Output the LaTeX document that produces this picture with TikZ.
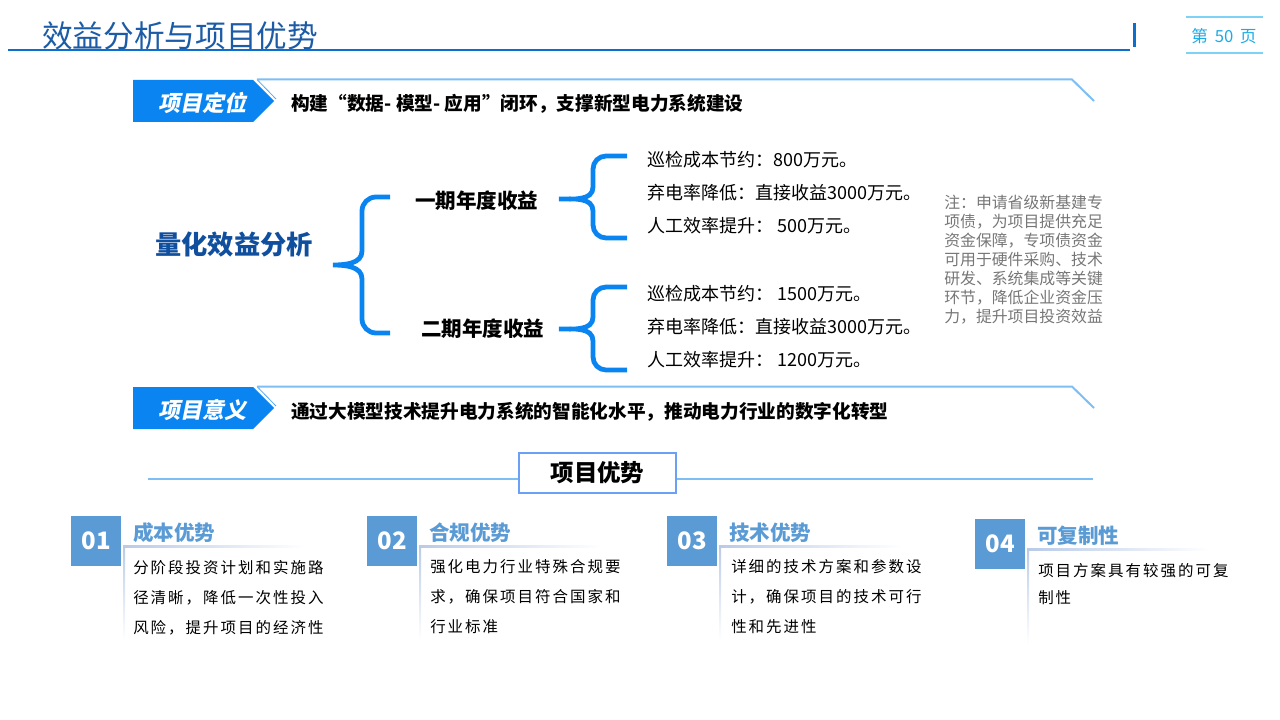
\documentclass[tikz,border=0pt]{standalone}
\usepackage{fontspec}
\setmainfont{Noto Sans CJK SC}
\newfontfamily\cjkbit{Noto Sans CJK SC}[FakeSlant=0.2]
\newfontfamily\cardfont{Noto Sans CJK SC}[LetterSpace=13]
\usetikzlibrary{shadows}
\definecolor{bannerblue}{RGB}{10,132,240}
\definecolor{titleblue}{RGB}{28,92,166}
\definecolor{darkblue}{RGB}{16,78,158}
\definecolor{lineblue}{RGB}{12,110,205}
\definecolor{lightline}{RGB}{125,190,245}
\definecolor{pagecyan}{RGB}{30,170,230}
\definecolor{pageline}{RGB}{125,210,245}
\definecolor{cardblue}{RGB}{91,155,213}
\definecolor{notegray}{RGB}{118,118,118}
\definecolor{cardline}{RGB}{185,202,232}
\tikzset{
  bracepath/.style={draw=bannerblue, line width=3.6pt},
  bannerfill/.style={fill=bannerblue},
  bannerlbl/.style={text=white, inner sep=0, font=\cjkbit\fontsize{16.5}{20}\selectfont\bfseries},
  bannerline/.style={draw=lightline, line width=1.5pt},
  bannerdiag/.style={draw=bannerblue!70, line width=0.6pt},
  sentence/.style={anchor=west, inner sep=0, font=\fontsize{14}{17}\selectfont\bfseries},
  item/.style={anchor=west, inner sep=0, font=\fontsize{13.5}{16}\selectfont},
  subhead/.style={anchor=west, inner sep=0, font=\fontsize{15.4}{18}\selectfont\bfseries},
  numbox/.style={fill=cardblue, text=white, minimum size=37.5pt, inner sep=0, font=\fontsize{18}{20}\selectfont\bfseries},
  cardtitle/.style={anchor=west, inner sep=0, text=cardblue, font=\fontsize{15.4}{18}\selectfont\bfseries},
  cardtext/.style={anchor=north west, inner sep=0, align=left, font=\cardfont\fontsize{11.6}{22.5}\selectfont},
}
\begin{document}
\begin{tikzpicture}[x=0.75pt,y=-0.75pt]
\useasboundingbox (0,0) rectangle (1280,720);
% header
\node[anchor=west, inner sep=0, text=titleblue, font=\fontsize{23}{26}\selectfont] (title) at (42,36) {效益分析与项目优势};
\draw[lineblue, line width=1.5pt] (8,50.5) -- (1130,50.5);
\draw[lineblue, line width=2.2pt] (1134.5,23) -- (1134.5,47);
\draw[pageline, line width=1.5pt] (1186,17) -- (1263,17) (1186,53) -- (1263,53);
\node[inner sep=0, text=pagecyan, font=\fontsize{12.5}{14}\selectfont] (page) at (1224,36) {第\hspace{5pt}50\hspace{5pt}页};
% banner 1
\fill[bannerfill] (133,80) -- (253,80) -- (274,101) -- (253,122) -- (133,122) -- cycle;
\draw[bannerdiag] (257,79.5) -- (276,99);
\draw[bannerline] (257,79.5) -- (1072,79.5) -- (1094,101);
\node[bannerlbl] (b1) at (202.5,103) {项目定位};
\node[sentence] (s1) at (291,104) {构建“数据- 模型- 应用”闭环，支撑新型电力系统建设};
% quantified analysis
\node[anchor=west, inner sep=0, text=darkblue, font=\fontsize{19.7}{22}\selectfont\bfseries] (qa) at (155,245) {量化效益分析};
\coordinate (bigtip) at (333,265);
\draw[bracepath] (390,197) -- (376,197) to[out=180,in=90] (362,211) -- (362,251) to[out=-90,in=0] (bigtip) to[out=0,in=90] (362,279) -- (362,319) to[out=-90,in=180] (376,333) -- (390,333);
\node[subhead] (p1) at (415,201) {一期年度收益};
\node[subhead] (p2) at (421,329) {二期年度收益};
\coordinate (tip1) at (559,199);
\coordinate (tip2) at (559,329);
\draw[bracepath] (627,156) -- (606,156) to[out=180,in=90] (593,169) -- (593,187) to[out=-90,in=0] (tip1) to[out=0,in=90] (593,211) -- (593,225) to[out=-90,in=180] (606,238) -- (627,238);
\draw[bracepath] (627,287) -- (606,287) to[out=180,in=90] (593,300) -- (593,317) to[out=-90,in=0] (tip2) to[out=0,in=90] (593,341) -- (593,357) to[out=-90,in=180] (606,370) -- (627,370);
\node[item] (i11) at (647,160) {巡检成本节约：800万元。};
\node[item] (i12) at (647,193) {弃电率降低：直接收益3000万元。};
\node[item] (i13) at (647,226) {人工效率提升： 500万元。};
\node[item] (i21) at (647,294) {巡检成本节约： 1500万元。};
\node[item] (i22) at (647,327) {弃电率降低：直接收益3000万元。};
\node[item] (i23) at (647,360) {人工效率提升： 1200万元。};
\node[anchor=north west, inner sep=0, align=left, text=notegray, font=\fontsize{11.9}{14.25}\selectfont] (note) at (944,195) {注：申请省级新基建专\\项债，为项目提供充足\\资金保障，专项债资金\\可用于硬件采购、技术\\研发、系统集成等关键\\环节，降低企业资金压\\力，提升项目投资效益};
% banner 2
\fill[bannerfill] (133,387) -- (253,387) -- (274,408) -- (253,429) -- (133,429) -- cycle;
\draw[bannerdiag] (257,386.5) -- (276,406);
\draw[bannerline] (257,386.5) -- (1072,386.5) -- (1094,408);
\node[bannerlbl] (b2) at (202.5,410) {项目意义};
\node[sentence] (s2) at (291,412) {通过大模型技术提升电力系统的智能化水平，推动电力行业的数字化转型};
% advantages header
\node[draw=lightline!85!blue, line width=1pt, fill=white, minimum width=117.75pt, minimum height=30pt, inner sep=0, font=\fontsize{17.6}{20}\selectfont\bfseries, drop shadow={shadow xshift=0.8pt, shadow yshift=-0.8pt, fill=black!25}] (adv) at (597.5,473) {项目优势};
\draw[lightline, line width=1.1pt] (148,479) -- (adv.west |- 0,479);
\draw[lightline, line width=1.1pt] (adv.east |- 0,479) -- (1093,479);
% cards
\foreach \bx/\by/\n/\ttl in {96/541/01/成本优势, 392/541/02/合规优势, 692/541/03/技术优势, 1000/544/04/可复制性}{
  \node[numbox] (num\n) at (\bx,\by) {\n};
  \node[cardtitle] (ttl\n) at (\bx+37,\by-8) {\ttl};
  \shade[top color=cardline, bottom color=white] (\bx+27,\by+4) rectangle (\bx+29,\by+100);
  \shade[left color=cardline, right color=white] (\bx+27,\by+4) rectangle (\bx+210,\by+6);
}
\node[cardtext] (c1) at (133,560) {分阶段投资计划和实施路\\径清晰，降低一次性投入\\风险，提升项目的经济性};
\node[cardtext] (c2) at (430,559) {强化电力行业特殊合规要\\求，确保项目符合国家和\\行业标准};
\node[cardtext] (c3) at (731,559) {详细的技术方案和参数设\\计，确保项目的技术可行\\性和先进性};
\node[cardtext, font=\cardfont\fontsize{11.6}{20.5}\selectfont] (c4) at (1038,563) {项目方案具有较强的可复\\制性};
\end{tikzpicture}
\end{document}
